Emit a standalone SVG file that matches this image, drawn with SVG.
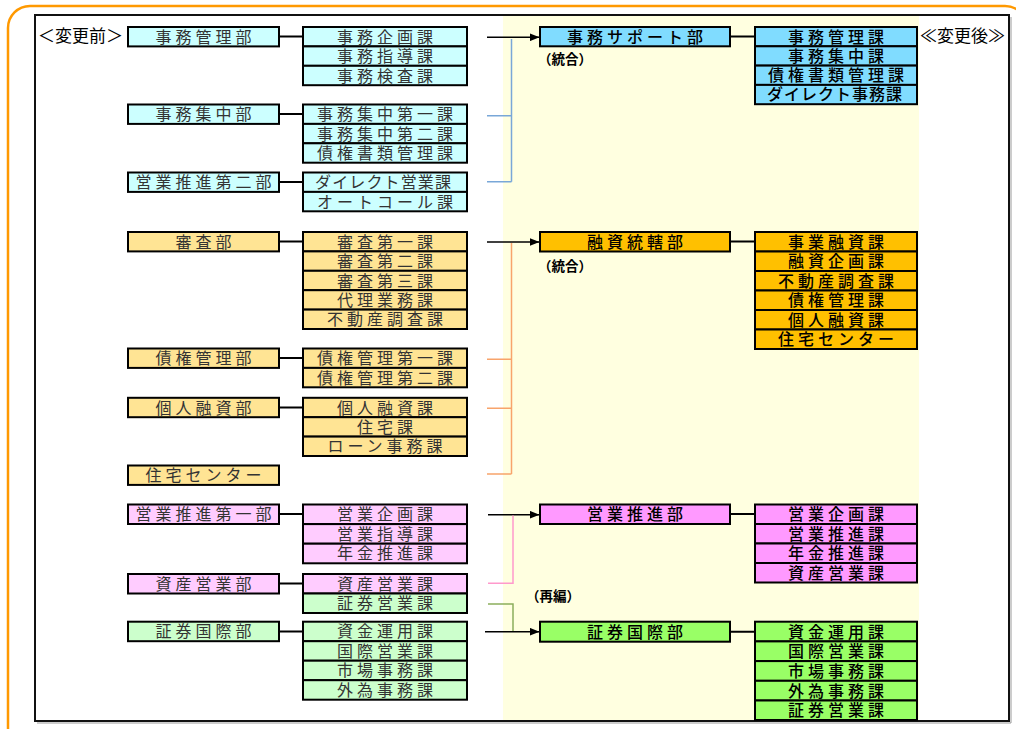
<svg xmlns="http://www.w3.org/2000/svg" width="1016" height="729" viewBox="0 0 1016 729">
<style>
.box{stroke:#000;stroke-width:2}
.lt{font-family:"Liberation Sans","Noto Sans CJK JP",sans-serif;font-size:16px;letter-spacing:4px;fill:#333;text-anchor:middle}
.rt{font-family:"Liberation Sans","Noto Sans CJK JP",sans-serif;font-size:16px;letter-spacing:4px;fill:#000;text-anchor:middle;font-weight:500}
.lab{font-family:"Liberation Sans","Noto Sans CJK JP",sans-serif;font-size:13.5px;font-weight:bold;fill:#000}
.hdr{font-family:"Liberation Sans","Noto Sans CJK JP",sans-serif;font-size:17px;fill:#000}
.c1{fill:#ccffff}.c1r{fill:#80dcff}
.c2{fill:#ffe494}.c2r{fill:#ffc000}
.c3{fill:#ffccff}.c3r{fill:#ff99ff}
.c4{fill:#ccffcc}.c4r{fill:#99ff66}
.k{stroke:#000;stroke-width:2;fill:none}
.arr{stroke:#000;stroke-width:1.5;fill:none;marker-end:url(#ah)}
</style>
<defs>
<marker id="ah" markerUnits="userSpaceOnUse" markerWidth="10" markerHeight="8" refX="10" refY="4" orient="auto">
<path d="M0,0 L10,4 L0,8 z" fill="#000"/>
</marker>
</defs>
<rect x="0" y="0" width="1016" height="729" fill="#fff"/>
<rect x="8" y="6" width="1019" height="745" rx="22" fill="none" stroke="#ff9900" stroke-width="2.5"/>
<rect x="503" y="16" width="416" height="704" fill="#ffffe0"/>
<path d="M37,723H1011V17" fill="none" stroke="#999" stroke-width="1"/>
<rect x="35" y="15" width="974" height="706" fill="none" stroke="#111" stroke-width="2"/>
<text class="hdr" x="38" y="42">＜変更前＞</text>
<text class="hdr" x="920" y="42">≪変更後≫</text>
<text class="lab" x="538" y="64">（統合）</text>
<text class="lab" x="538" y="271">（統合）</text>
<text class="lab" x="526" y="601">（再編）</text>

<g id="connectors">
<path class="k" d="M279,36.5H303M279,114H303M279,182H303M279,241.5H303M279,358H303M279,407.5H303M279,514H303M279,583.5H303M279,631.5H303"/>
<path class="k" d="M730,36.5H755M730,241.5H755M730,514H755M730,631.7H755"/>
<path class="arr" d="M487,37.3H539.5"/>
<path d="M511.5,39V181.7M487,115.7H511.5M487,181.7H511.5" fill="none" stroke="#79a7d8" stroke-width="1.5"/>
<path class="arr" d="M487,242H539.5"/>
<path d="M511.5,243V474M487,359.3H511.5M487,408.3H511.5M487,474H511.5" fill="none" stroke="#f8a46b" stroke-width="1.5"/>
<path class="arr" d="M488,514.7H539.5"/>
<path d="M513,515.5V583.3H488" fill="none" stroke="#ff99cc" stroke-width="1.5"/>
<path d="M488,604H513V631.7" fill="none" stroke="#8cae5c" stroke-width="1.5"/>
<path class="arr" d="M485,631.7H539.5"/>
</g>

<!-- left departments -->
<g id="L-jimukanri"><rect class="box c1" x="128" y="27" width="151" height="19.4"/><text class="lt" x="205.5" y="42.7">事務管理部</text></g>
<g id="L-jimushuchu"><rect class="box c1" x="128" y="104.5" width="151" height="19.4"/><text class="lt" x="205.5" y="120.2">事務集中部</text></g>
<g id="L-eigyo2"><rect class="box c1" x="128" y="172.5" width="151" height="19.4"/><text class="lt" x="205.5" y="188.2">営業推進第二部</text></g>
<g id="L-shinsa"><rect class="box c2" x="128" y="232" width="151" height="19.4"/><text class="lt" x="205.5" y="247.7">審査部</text></g>
<g id="L-saiken"><rect class="box c2" x="128" y="348.5" width="151" height="19.4"/><text class="lt" x="205.5" y="364.2">債権管理部</text></g>
<g id="L-kojin"><rect class="box c2" x="128" y="397.8" width="151" height="19.4"/><text class="lt" x="205.5" y="413.5">個人融資部</text></g>
<g id="L-jutaku"><rect class="box c2" x="128" y="465.5" width="151" height="19.4"/><text class="lt" x="205.5" y="481.2">住宅センター</text></g>
<g id="L-eigyo1"><rect class="box c3" x="128" y="504.5" width="151" height="19.5"/><text class="lt" x="205.5" y="520.2">営業推進第一部</text></g>
<g id="L-shisan"><rect class="box c3" x="128" y="574" width="151" height="19.5"/><text class="lt" x="205.5" y="589.7">資産営業部</text></g>
<g id="L-shoken"><rect class="box c4" x="128" y="621.7" width="151" height="19.5"/><text class="lt" x="205.5" y="637.4">証券国際部</text></g>

<!-- left sections -->
<g id="L-s1"><rect class="box c1" x="303" y="27" width="164" height="19.4"/><text class="lt" x="387" y="42.7">事務企画課</text></g>
<g id="L-s2"><rect class="box c1" x="303" y="46.4" width="164" height="19.4"/><text class="lt" x="387" y="62.1">事務指導課</text></g>
<g id="L-s3"><rect class="box c1" x="303" y="65.8" width="164" height="19.4"/><text class="lt" x="387" y="81.5">事務検査課</text></g>
<g id="L-s4"><rect class="box c1" x="303" y="104.5" width="164" height="19.4"/><text class="lt" x="387" y="120.2">事務集中第一課</text></g>
<g id="L-s5"><rect class="box c1" x="303" y="123.9" width="164" height="19.4"/><text class="lt" x="387" y="139.6">事務集中第二課</text></g>
<g id="L-s6"><rect class="box c1" x="303" y="143.3" width="164" height="19.4"/><text class="lt" x="387" y="159">債権書類管理課</text></g>
<g id="L-s7"><rect class="box c1" x="303" y="172.5" width="164" height="19.4"/><text class="lt" x="385" y="188.2" textLength="140" lengthAdjust="spacing">ダイレクト営業課</text></g>
<g id="L-s8"><rect class="box c1" x="303" y="191.9" width="164" height="19.4"/><text class="lt" x="387" y="207.6">オートコール課</text></g>

<g id="L-s9"><rect class="box c2" x="303" y="232" width="164" height="19.4"/><text class="lt" x="387" y="247.7">審査第一課</text></g>
<g id="L-s10"><rect class="box c2" x="303" y="251.4" width="164" height="19.4"/><text class="lt" x="387" y="267.1">審査第二課</text></g>
<g id="L-s11"><rect class="box c2" x="303" y="270.8" width="164" height="19.4"/><text class="lt" x="387" y="286.5">審査第三課</text></g>
<g id="L-s12"><rect class="box c2" x="303" y="290.2" width="164" height="19.4"/><text class="lt" x="387" y="305.9">代理業務課</text></g>
<g id="L-s13"><rect class="box c2" x="303" y="309.6" width="164" height="19.4"/><text class="lt" x="387" y="325.3">不動産調査課</text></g>
<g id="L-s14"><rect class="box c2" x="303" y="348.5" width="164" height="19.4"/><text class="lt" x="387" y="364.2">債権管理第一課</text></g>
<g id="L-s15"><rect class="box c2" x="303" y="367.9" width="164" height="19.4"/><text class="lt" x="387" y="383.6">債権管理第二課</text></g>
<g id="L-s16"><rect class="box c2" x="303" y="397.8" width="164" height="19.4"/><text class="lt" x="387" y="413.5">個人融資課</text></g>
<g id="L-s17"><rect class="box c2" x="303" y="417.2" width="164" height="19.4"/><text class="lt" x="387" y="432.9">住宅課</text></g>
<g id="L-s18"><rect class="box c2" x="303" y="436.6" width="164" height="19.4"/><text class="lt" x="387" y="452.3">ローン事務課</text></g>

<g id="L-s19"><rect class="box c3" x="303" y="504.5" width="164" height="19.6"/><text class="lt" x="387" y="520.2">営業企画課</text></g>
<g id="L-s20"><rect class="box c3" x="303" y="524.1" width="164" height="19.6"/><text class="lt" x="387" y="539.8">営業指導課</text></g>
<g id="L-s21"><rect class="box c3" x="303" y="543.7" width="164" height="19.6"/><text class="lt" x="387" y="559.4">年金推進課</text></g>
<g id="L-s22"><rect class="box c3" x="303" y="574" width="164" height="19.5"/><text class="lt" x="387" y="589.7">資産営業課</text></g>
<g id="L-s23"><rect class="box c4" x="303" y="593.5" width="164" height="19.5"/><text class="lt" x="387" y="609.2">証券営業課</text></g>
<g id="L-s24"><rect class="box c4" x="303" y="621.7" width="164" height="19.5"/><text class="lt" x="387" y="637.4">資金運用課</text></g>
<g id="L-s25"><rect class="box c4" x="303" y="641.2" width="164" height="19.5"/><text class="lt" x="387" y="656.9">国際営業課</text></g>
<g id="L-s26"><rect class="box c4" x="303" y="660.7" width="164" height="19.5"/><text class="lt" x="387" y="676.4">市場事務課</text></g>
<g id="L-s27"><rect class="box c4" x="303" y="680.2" width="164" height="19.5"/><text class="lt" x="387" y="695.9">外為事務課</text></g>

<!-- right departments -->
<g id="R-support"><rect class="box c1r" x="540" y="27" width="190" height="19.3"/><text class="rt" x="637" y="42.5">事務サポート部</text></g>
<g id="R-yushi"><rect class="box c2r" x="540" y="232" width="190" height="19.5"/><text class="rt" x="637" y="247.7">融資統轄部</text></g>
<g id="R-eigyo"><rect class="box c3r" x="540" y="504.5" width="190" height="19.5"/><text class="rt" x="637" y="520.2">営業推進部</text></g>
<g id="R-shoken"><rect class="box c4r" x="540" y="621.7" width="190" height="20"/><text class="rt" x="637" y="637.6">証券国際部</text></g>

<!-- right sections -->
<g id="R-s1"><rect class="box c1r" x="755" y="27" width="162" height="19.3"/><text class="rt" x="838" y="42.5">事務管理課</text></g>
<g id="R-s2"><rect class="box c1r" x="755" y="46.3" width="162" height="19.3"/><text class="rt" x="838" y="61.8">事務集中課</text></g>
<g id="R-s3"><rect class="box c1r" x="755" y="65.6" width="162" height="19.3"/><text class="rt" x="838" y="81.1">債権書類管理課</text></g>
<g id="R-s4"><rect class="box c1r" x="755" y="84.9" width="162" height="19.3"/><text class="rt" x="836.5" y="100.4" textLength="139" lengthAdjust="spacing">ダイレクト事務課</text></g>

<g id="R-s5"><rect class="box c2r" x="755" y="232" width="162" height="19.5"/><text class="rt" x="838" y="247.7">事業融資課</text></g>
<g id="R-s6"><rect class="box c2r" x="755" y="251.5" width="162" height="19.5"/><text class="rt" x="838" y="267.2">融資企画課</text></g>
<g id="R-s7"><rect class="box c2r" x="755" y="271" width="162" height="19.5"/><text class="rt" x="838" y="286.7">不動産調査課</text></g>
<g id="R-s8"><rect class="box c2r" x="755" y="290.5" width="162" height="19.5"/><text class="rt" x="838" y="306.2">債権管理課</text></g>
<g id="R-s9"><rect class="box c2r" x="755" y="310" width="162" height="19.5"/><text class="rt" x="838" y="325.7">個人融資課</text></g>
<g id="R-s10"><rect class="box c2r" x="755" y="329.5" width="162" height="19.5"/><text class="rt" x="838" y="345.2">住宅センター</text></g>

<g id="R-s11"><rect class="box c3r" x="755" y="504.5" width="162" height="19.5"/><text class="rt" x="838" y="520.2">営業企画課</text></g>
<g id="R-s12"><rect class="box c3r" x="755" y="524" width="162" height="19.5"/><text class="rt" x="838" y="539.7">営業推進課</text></g>
<g id="R-s13"><rect class="box c3r" x="755" y="543.5" width="162" height="19.5"/><text class="rt" x="838" y="559.2">年金推進課</text></g>
<g id="R-s14"><rect class="box c3r" x="755" y="563" width="162" height="19.5"/><text class="rt" x="838" y="578.7">資産営業課</text></g>

<g id="R-s15"><rect class="box c4r" x="755" y="621.7" width="162" height="19.7"/><text class="rt" x="838" y="637.6">資金運用課</text></g>
<g id="R-s16"><rect class="box c4r" x="755" y="641.4" width="162" height="19.7"/><text class="rt" x="838" y="657.3">国際営業課</text></g>
<g id="R-s17"><rect class="box c4r" x="755" y="661.1" width="162" height="19.7"/><text class="rt" x="838" y="677">市場事務課</text></g>
<g id="R-s18"><rect class="box c4r" x="755" y="680.8" width="162" height="19.7"/><text class="rt" x="838" y="696.7">外為事務課</text></g>
<g id="R-s19"><rect class="box c4r" x="755" y="700.5" width="162" height="19.5"/><text class="rt" x="838" y="716.3">証券営業課</text></g>
</svg>
